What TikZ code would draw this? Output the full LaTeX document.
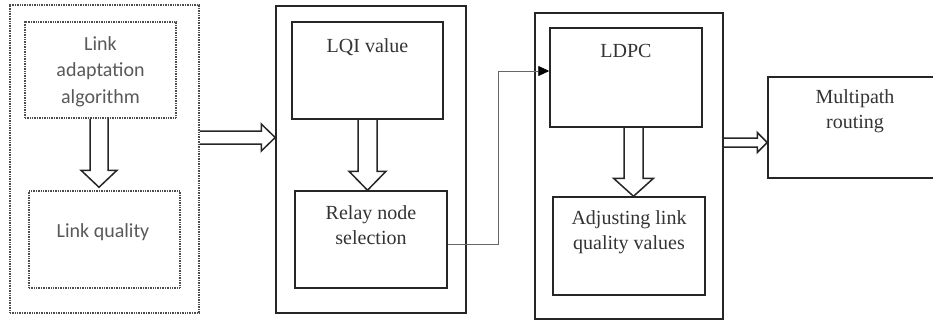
\documentclass[tikz,border=0pt]{standalone}
\usepackage{fontspec}
\setmainfont{Liberation Serif}
\newfontfamily\calfont{Carlito}
\usetikzlibrary{fit,calc,arrows.meta}
\newcommand\fatdown[5]{\draw[fat] let \p1=(#1), \p2=(#2) in
  (\x1-#3pt,\y1) -- (\x1-#3pt,\y2+#5pt) -- (\x1-#4pt,\y2+#5pt) -- (\x1,\y2)
  -- (\x1+#4pt,\y2+#5pt) -- (\x1+#3pt,\y2+#5pt) -- (\x1+#3pt,\y1);}
\newcommand\fatright[5]{\draw[fat] let \p1=(#1), \p2=(#2) in
  (\x1,\y1+#3pt) -- (\x2-#5pt,\y1+#3pt) -- (\x2-#5pt,\y1+#4pt) -- (\x2,\y1)
  -- (\x2-#5pt,\y1-#4pt) -- (\x2-#5pt,\y1-#3pt) -- (\x1,\y1-#3pt);}
\begin{document}
\begin{tikzpicture}[x=1pt,y=-1pt,
  box/.style={draw=black!85,line width=1.5pt,inner sep=0pt,rectangle},
  dbox/.style={draw=black!70,line width=1.5pt,dash pattern=on 1pt off 0.7pt,inner sep=0pt,rectangle},
  stxt/.style={font=\fontsize{20}{24.5}\selectfont,text=black!80,align=center,inner sep=0pt,anchor=base},
  ctxt/.style={font=\calfont\fontsize{20}{26.5}\selectfont,text=black!65,align=center,inner sep=0pt,anchor=base},
  fat/.style={draw=black!85,line width=1.5pt,line join=miter},
  conn/.style={draw=black!60,line width=0.9pt,-{Triangle[length=11pt,width=10pt,color=black]}}]
\useasboundingbox (0,0) rectangle (933,322);
% outer boxes
\node[dbox, fit={(10,5) (199,313)}] (o1) {};
\node[box, fit={(276,6) (466,313)}] (o2) {};
\node[box, fit={(535,13) (723,319)}] (o3) {};
% inner boxes
\node[dbox, fit={(25,22) (176,118)}] (i1a) {};
\node[dbox, fit={(29,191) (180,288)}] (i1b) {};
\node[box, fit={(292,22) (443,119)}] (i2a) {};
\node[box, fit={(295,191) (447,288)}] (i2b) {};
\node[box, fit={(550,28) (702,127)}] (i3a) {};
\node[box, fit={(553,197) (705,295)}] (i3b) {};
\node[box, fit={(768,77) (942,178)}] (mp) {};
% texts (base anchor = baseline of the last line)
\node[ctxt] (t1a) at (100.5,103) {Link\\adaptation\\algorithm};
\node[ctxt] (t1b) at (103,237) {Link quality};
\node[stxt] (t2a) at (367.5,52) {LQI value};
\node[stxt] (t2b) at (371,244) {Relay node\\selection};
\node[stxt] (t3a) at (626,57) {LDPC};
\node[stxt] (t3b) at (629,249) {Adjusting link\\quality values};
\node[stxt] (tmp) at (855,128) {Multipath\\routing};
% fat arrows
\fatdown{$(i1a.south)+(-1.5,0)$}{$(i1b.north)+(0,-3)$}{9}{18}{17}
\fatdown{i2a.south}{i2b.north}{9.5}{18.5}{19}
\fatdown{$(i3a.south)+(7.5,0)$}{i3b.north}{9.5}{20}{18}
\coordinate (hy1) at (0,137.5);
\coordinate (hy2) at (0,142.5);
\fatright{o1.east |- hy1}{o2.west |- hy1}{6.5}{13.5}{14}
\fatright{o3.east |- hy2}{mp.west |- hy2}{4.5}{10}{10}
% connector
\coordinate (ry) at (0,244);
\coordinate (ly) at (0,71);
\coordinate (mx) at (498,0);
\draw[conn] (i2b.east |- ry) -- (mx |- ry) -- (mx |- ly) -- (i3a.west |- ly);
\end{tikzpicture}
\end{document}
